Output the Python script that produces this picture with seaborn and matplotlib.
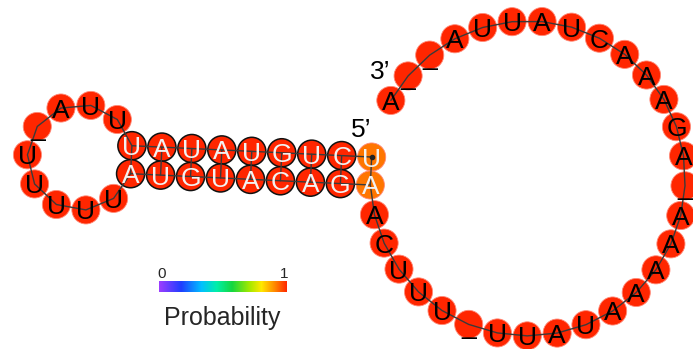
import numpy as np
import pandas as pd
import matplotlib
matplotlib.use("Agg")
import matplotlib.pyplot as plt
from matplotlib.colors import LinearSegmentedColormap, Normalize
from matplotlib.cm import ScalarMappable
import seaborn as sns

# ---- data: RNA sequence, secondary structure and per-base pairing probability ----
stem_5p = "UCUGUAUAU"
hairpin = "UUA_UUUUU"
stem_3p = "AUGUACAGA"
tail = "ACUUU_UUAUAAAAA_AGAAACUAUUA__A"

stem_5p_db = "((((((((("
hairpin_db = "........."
stem_3p_db = ")))))))))"
tail_db = ".............................."

stem_5p_prob = [0.92, 1.0, 1.0, 1.0, 1.0, 1.0, 1.0, 1.0, 1.0]
hairpin_prob = [1.0, 1.0, 1.0, 1.0, 1.0, 1.0, 1.0, 1.0, 1.0]
stem_3p_prob = [1.0, 1.0, 1.0, 1.0, 1.0, 1.0, 1.0, 1.0, 0.92]
tail_prob = [1.0, 1.0, 1.0, 1.0, 1.0, 1.0, 1.0, 1.0, 1.0, 1.0,
             1.0, 1.0, 1.0, 1.0, 1.0, 1.0, 1.0, 1.0, 1.0, 1.0,
             1.0, 1.0, 1.0, 1.0, 1.0, 1.0, 1.0, 1.0, 1.0, 1.0]

sequence = stem_5p + hairpin + stem_3p + tail
structure = stem_5p_db + hairpin_db + stem_3p_db + tail_db
probability = stem_5p_prob + hairpin_prob + stem_3p_prob + tail_prob

cbar_ticks = ["0", "1"]
cbar_title = "Probability"

# ---- layout constants (pixels) ----
PAIR_W = 28.0      # distance between paired bases
STEP = 30.0        # distance between consecutive bases
ORIGIN = np.array([371.0, 171.0])   # midpoint of the outermost base pair
TILT = np.deg2rad(2.7)

# pair table from dot-bracket
pair = [-1] * len(structure)
stack = []
for i, ch in enumerate(structure):
    if ch == "(":
        stack.append(i)
    elif ch == ")":
        j = stack.pop()
        pair[i], pair[j] = j, i

pos = np.zeros((len(sequence), 2))
u = np.array([-np.cos(TILT), -np.sin(TILT)])   # along the helix, away from the ends
n5 = np.array([-u[1], u[0]])                     # side of the 5' strand

# helix
i, j, k = 0, pair[0], 0
while True:
    mid = ORIGIN + k * STEP * u
    pos[i] = mid + n5 * PAIR_W / 2
    pos[j] = mid - n5 * PAIR_W / 2
    if pair[i + 1] == j - 1:
        i, j, k = i + 1, j - 1, k + 1
    else:
        break
inner_i, inner_j = i, j


def loop_radius(n_steps):
    lo, hi = STEP / 2 + 1e-6, 1e4
    for _ in range(200):
        r = (lo + hi) / 2
        tot = 2 * np.arcsin(PAIR_W / (2 * r)) + n_steps * 2 * np.arcsin(STEP / (2 * r))
        if tot > 2 * np.pi:
            lo = r
        else:
            hi = r
    return r


def loop_positions(p_start, p_end, n_steps, outward):
    r = loop_radius(n_steps)
    mid = (p_start + p_end) / 2
    c = mid + np.sqrt(r ** 2 - (PAIR_W / 2) ** 2) * outward
    a0 = np.arctan2(p_start[1] - c[1], p_start[0] - c[0])
    a1 = np.arctan2(p_end[1] - c[1], p_end[0] - c[0])
    short = (a1 - a0 + np.pi) % (2 * np.pi) - np.pi
    d = -np.sign(short)
    step = 2 * np.arcsin(STEP / (2 * r))
    return [c + r * np.array([np.cos(a0 + d * step * m), np.sin(a0 + d * step * m)])
            for m in range(1, n_steps)]


# hairpin loop closed by the innermost pair
hp_nodes = list(range(inner_i + 1, inner_j))
for idx, p in zip(hp_nodes, loop_positions(pos[inner_i], pos[inner_j], len(hp_nodes) + 1, u)):
    pos[idx] = p

# exterior loop closed by the outermost pair, with one empty slot between 3' and 5' ends
ext_nodes = list(range(pair[0] + 1, len(sequence)))
for idx, p in zip(ext_nodes, loop_positions(pos[pair[0]], pos[0], len(ext_nodes) + 2, -u)):
    pos[idx] = p

df = pd.DataFrame({
    "x": pos[:, 0], "y": pos[:, 1],
    "base": list(sequence), "prob": probability,
    "paired": [p >= 0 for p in pair],
})
df["outlined"] = df["paired"] & (df.index != 0) & (df.index != pair[0])

pairs = pd.DataFrame(
    [{"pid": a, "x": pos[a, 0], "y": pos[a, 1]} for a in range(len(pair)) if pair[a] > a] +
    [{"pid": a, "x": pos[pair[a], 0], "y": pos[pair[a], 1]} for a in range(len(pair)) if pair[a] > a]
)

# ---- colours ----
cmap = LinearSegmentedColormap.from_list("prob", [
    (0.00, "#9b3dff"), (0.17, "#1f3dff"), (0.33, "#00bfff"), (0.45, "#00eea8"),
    (0.57, "#14d640"), (0.70, "#9de800"), (0.80, "#ffe800"), (0.90, "#ff8c00"),
    (1.00, "#ff2600")])

sns.set_theme(style="white")
plt.rcParams["font.family"] = ["Liberation Sans", "DejaVu Sans"]

fig = plt.figure(figsize=(6.93, 3.49), dpi=100)
ax = fig.add_axes([0, 0, 1, 1])

MARK = 410  # marker area in pt^2 (about 28 px diameter)
sns.scatterplot(data=df[~df["outlined"]], x="x", y="y", hue="prob", palette=cmap,
                hue_norm=(0, 1), s=MARK, linewidth=0.6, edgecolor="#ff8a78",
                legend=False, ax=ax, zorder=2)
sns.scatterplot(data=df[df["outlined"]], x="x", y="y", hue="prob", palette=cmap,
                hue_norm=(0, 1), s=MARK, linewidth=1.1, edgecolor="#111111",
                legend=False, ax=ax, zorder=2)

sns.lineplot(data=df, x="x", y="y", sort=False, estimator=None, color="#3a3a3a",
             linewidth=1.0, ax=ax, zorder=3)
sns.lineplot(data=pairs, x="x", y="y", units="pid", sort=False, estimator=None,
             color="#3a3a3a", linewidth=1.0, ax=ax, zorder=3)
ax.plot(pos[0, 0], pos[0, 1], "o", color="#222222", markersize=3, zorder=3)

for _, r in df.iterrows():
    col = "#f2f2f2" if r["paired"] else "black"
    ax.text(r["x"], r["y"] + 9.5, r["base"], ha="center", va="baseline",
            fontsize=19, color=col, zorder=4)

ax.text(pos[0, 0] - 10, pos[0, 1] - 27, "5\u2019", ha="center", va="center",
        fontsize=19, color="black")
ax.text(pos[-1, 0] - 11, pos[-1, 1] - 28, "3\u2019", ha="center", va="center",
        fontsize=19, color="black")

ax.set_xlim(0, 693)
ax.set_ylim(349, 0)
ax.axis("off")

# probability colour bar
cax = fig.add_axes([159 / 693, 1 - 292 / 349, 128 / 693, 11 / 349])
cb = fig.colorbar(ScalarMappable(norm=Normalize(0, 1), cmap=cmap), cax=cax,
                  orientation="horizontal")
cb.set_ticks([])
cb.outline.set_visible(False)
fig.text(162 / 693, 1 - 274 / 349, cbar_ticks[0], ha="center", va="center", fontsize=11)
fig.text(284 / 693, 1 - 274 / 349, cbar_ticks[1], ha="center", va="center", fontsize=11)
fig.text(222 / 693, 1 - 318 / 349, cbar_title, ha="center", va="center", fontsize=18)

fig.savefig("out.png", dpi=100)
